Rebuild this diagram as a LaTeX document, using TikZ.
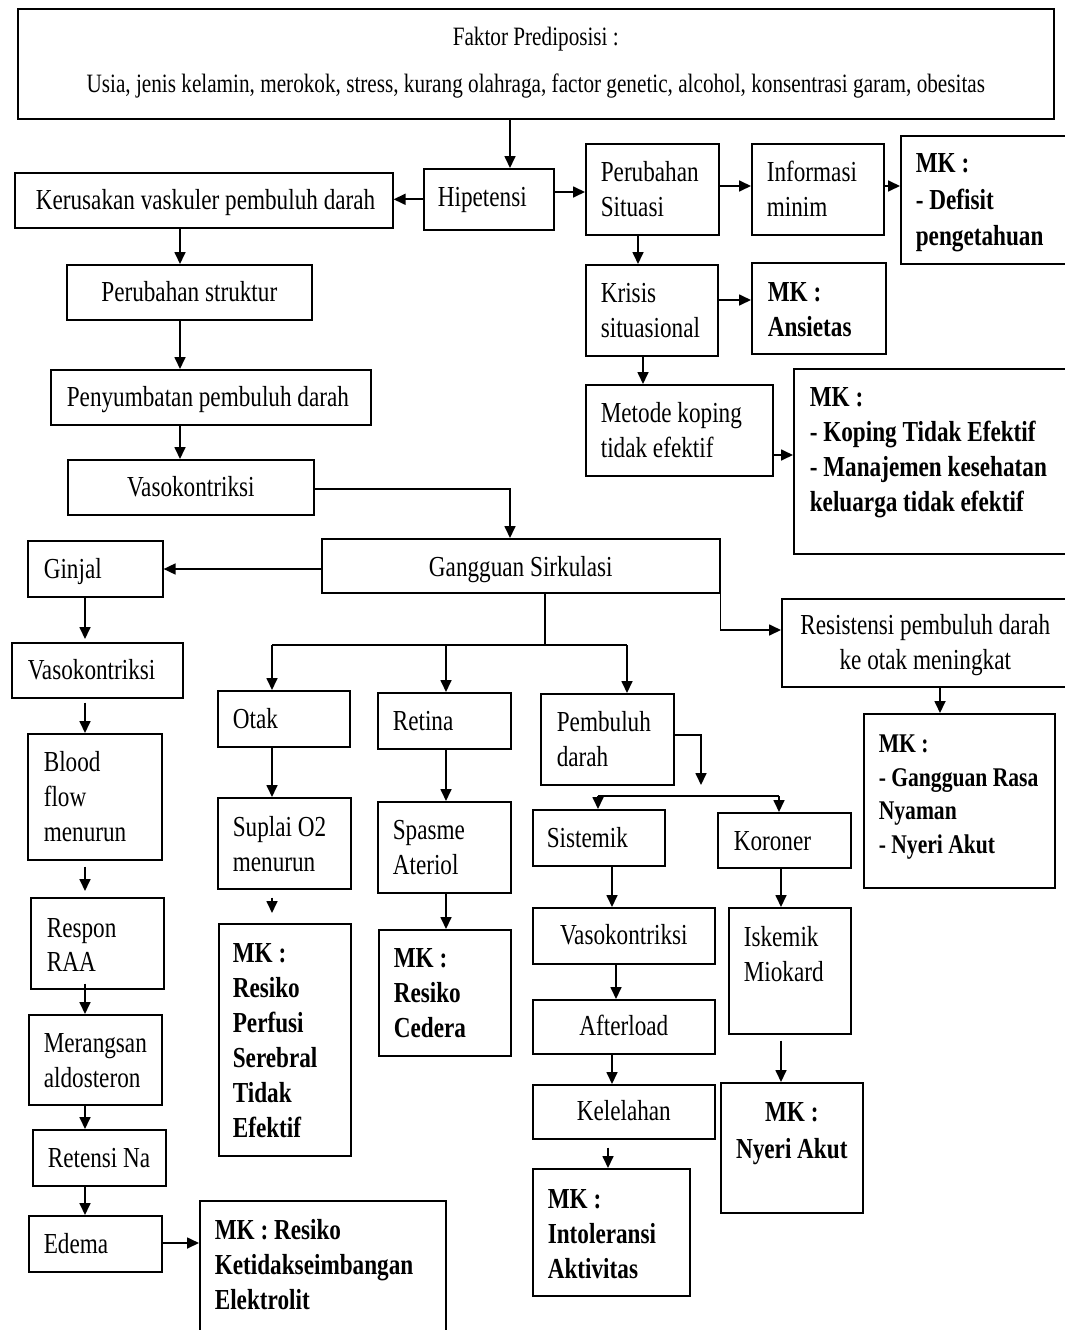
\documentclass[tikz,border=0pt]{standalone}
\usepackage{fontspec}
\setmainfont{Liberation Serif}[FakeStretch=0.8]
\usetikzlibrary{arrows.meta}
\newcommand\tb[5]{\parbox[c][#2pt][t]{#1pt}{\raggedright\leftskip=#3pt\relax\rule{0pt}{#4pt}#5\par}}
\newcommand\tc[4]{\parbox[c][#2pt][t]{#1pt}{\centering\rule{0pt}{#3pt}#4\par}}
\begin{document}
\begin{tikzpicture}[x=1pt,y=-1pt,
  bx/.style={draw, line width=1.6pt, inner sep=0pt, anchor=north west, font=\fontsize{29}{35}\selectfont},
  mk/.style={bx, font=\bfseries\fontsize{29}{35}\selectfont},
  conn/.style={line width=1.7pt},
  arr/.style={line width=1.7pt, -{Triangle[length=12pt,width=11pt]}}]
\useasboundingbox (0,0) rectangle (1065,1330);
\fill[white] (0,0) rectangle (1065,1330);
% nodes
\node[bx, font=\fontsize{26.5}{47}\selectfont] (top) at (17,8) {\tc{1036}{110}{37}{Faktor Prediposisi :\\Usia, jenis kelamin, merokok, stress, kurang olahraga, factor genetic, alcohol, konsentrasi garam, obesitas}};
\node[bx] (hip) at (423,168) {\tb{130}{61}{14}{38}{Hipetensi}};
\node[bx] (ker) at (14,172) {\tb{378}{55}{21}{37}{Kerusakan vaskuler pembuluh darah}};
\node[bx] (per) at (585,143) {\tb{133}{91}{15}{38}{Perubahan\\Situasi}};
\node[bx] (info) at (751,143) {\tb{132}{91}{15}{38}{Informasi\\minim}};
\node[mk, font=\bfseries\fontsize{29}{36.5}\selectfont] (mkdef) at (900,135) {\tb{175}{128}{15}{37}{MK :\\- Defisit\\pengetahuan}};
\node[bx] (kri) at (585,264) {\tb{132}{91}{15}{38}{Krisis\\situasional}};
\node[mk] (ans) at (751,262) {\tb{134}{91}{16}{39}{MK :\\Ansietas}};
\node[bx] (met) at (585,384) {\tb{187}{91}{15}{38}{Metode koping\\tidak efektif}};
\node[mk] (mkkop) at (793,368) {\tb{280}{185}{16}{38}{MK :\\- Koping Tidak Efektif\\- Manajemen kesehatan\\keluarga tidak efektif}};
\node[bx] (pst) at (66,264) {\tc{245}{55}{37}{Perubahan struktur}};
\node[bx] (pen) at (50,369) {\tb{320}{55}{16}{37}{Penyumbatan pembuluh darah}};
\node[bx] (vs1) at (67,459) {\tc{246}{55}{37}{Vasokontriksi}};
\node[bx] (gang) at (321,538) {\tc{398}{54}{38}{Gangguan Sirkulasi}};
\node[bx] (gin) at (27,540) {\tb{135}{56}{16}{38}{Ginjal}};
\node[bx] (res) at (781,598) {\tc{287}{88}{36}{Resistensi pembuluh darah\\ke otak meningkat}};
\node[mk, font=\bfseries\fontsize{27}{33.5}\selectfont] (mkgr) at (863,713) {\tb{191}{174}{15}{39}{MK :\\- Gangguan Rasa\\Nyaman\\- Nyeri Akut}};
\node[bx] (vs2) at (11,642) {\tb{171}{55}{16}{37}{Vasokontriksi}};
\node[bx] (otak) at (217,690) {\tb{132}{56}{15}{38}{Otak}};
\node[bx] (ret) at (377,692) {\tb{133}{56}{15}{38}{Retina}};
\node[bx] (pem) at (540,693) {\tb{133}{91}{16}{38}{Pembuluh\\darah}};
\node[bx] (blood) at (27,733) {\tb{134}{126}{16}{38}{Blood\\flow\\menurun}};
\node[bx] (sup) at (217,797) {\tb{133}{91}{15}{39}{Suplai O2\\menurun}};
\node[bx] (spa) at (377,801) {\tb{133}{91}{15}{38}{Spasme\\Ateriol}};
\node[bx] (sis) at (532,809) {\tb{132}{56}{14}{38}{Sistemik}};
\node[bx] (kor) at (717,812) {\tb{133}{55}{16}{38}{Koroner}};
\node[bx, font=\fontsize{29}{34}\selectfont] (rraa) at (30,897) {\tb{133}{91}{16}{40}{Respon\\RAA}};
\node[mk] (mkper) at (218,923) {\tb{132}{232}{14}{39}{MK :\\Resiko\\Perfusi\\Serebral\\Tidak\\Efektif}};
\node[mk] (mkced) at (378,929) {\tb{132}{126}{15}{38}{MK :\\Resiko\\Cedera}};
\node[bx] (vs3) at (532,907) {\tc{182}{56}{37}{Vasokontriksi}};
\node[bx] (isk) at (728,907) {\tb{122}{126}{15}{39}{Iskemik\\Miokard}};
\node[bx] (mer) at (28,1014) {\tb{133}{90}{15}{38}{Merangsan\\aldosteron}};
\node[bx] (aft) at (532,999) {\tc{182}{54}{36}{Afterload}};
\node[bx] (kel) at (532,1084) {\tc{182}{54}{36}{Kelelahan}};
\node[mk, font=\bfseries\fontsize{29}{37}\selectfont] (mkny) at (720,1082) {\tc{142}{130}{39}{MK :\\Nyeri Akut}};
\node[bx] (retna) at (32,1129) {\tb{133}{56}{15}{38}{Retensi Na}};
\node[mk] (mkint) at (532,1168) {\tb{157}{127}{15}{40}{MK :\\Intoleransi\\Aktivitas}};
\node[bx] (ede) at (28,1215) {\tb{133}{56}{15}{38}{Edema}};
\node[mk] (mkket) at (199,1200) {\tb{246}{150}{15}{39}{MK : Resiko\\Ketidakseimbangan\\Elektrolit}};
% helper coordinates
\coordinate (xA) at (510,0);
\coordinate (yC) at (0,192);
\coordinate (yD) at (0,186);
\coordinate (xF) at (638,0);
\coordinate (yG) at (0,300);
\coordinate (xH) at (643,0);
\coordinate (yI) at (0,455);
\coordinate (xJ) at (180,0);
\coordinate (yM) at (0,489);
\coordinate (yN) at (0,569);
\coordinate (yO) at (0,630);
\coordinate (xP) at (940,0);
\coordinate (xQ) at (545,0);
\coordinate (yQ) at (0,645);
\coordinate (xOt) at (272,0);
\coordinate (xRt) at (446,0);
\coordinate (xPm) at (627,0);
\coordinate (yV) at (0,735);
\coordinate (pv) at (701,785);
\coordinate (xSl) at (598,0);
\coordinate (xKr) at (779,0);
\coordinate (yW) at (0,796);
\coordinate (xX) at (612,0);
\coordinate (xY) at (616,0);
\coordinate (xZ) at (608,0);
\coordinate (xB) at (781,0);
\coordinate (xL) at (85,0);
\coordinate (yJJ) at (0,1243);
% connectors
\draw[arr] (top.south -| xA) -- (hip.north -| xA);
\draw[arr] (hip.west) -- (hip.west -| ker.east);
\draw[arr] (hip.east |- yC) -- (per.west |- yC);
\draw[arr] (per.east |- yD) -- (info.west |- yD);
\draw[arr] (info.east |- yD) -- (mkdef.west |- yD);
\draw[arr] (per.south -| xF) -- (kri.north -| xF);
\draw[arr] (kri.east |- yG) -- (ans.west |- yG);
\draw[arr] (kri.south -| xH) -- (met.north -| xH);
\draw[arr] (met.east |- yI) -- (mkkop.west |- yI);
\draw[arr] (ker.south -| xJ) -- (pst.north -| xJ);
\draw[arr] (pst.south -| xJ) -- (pen.north -| xJ);
\draw[arr] (pen.south -| xJ) -- (vs1.north -| xJ);
\draw[arr] (vs1.east |- yM) -| (gang.north -| xA);
\draw[arr] (gang.west |- yN) -- (gin.east |- yN);
\draw[arr] (gang.south east) |- (res.west |- yO);
\draw[arr] (res.south -| xP) -- (mkgr.north -| xP);
\draw[conn] (gang.south -| xQ) -- (xQ |- yQ);
\draw[conn] (xOt |- yQ) -- (xPm |- yQ);
\draw[arr] (xOt |- yQ) -- (otak.north -| xOt);
\draw[arr] (xRt |- yQ) -- (ret.north -| xRt);
\draw[arr] (xPm |- yQ) -- (pem.north -| xPm);
\draw[arr] (otak.south -| xOt) -- (sup.north -| xOt);
\draw[arr, shorten <=8pt, shorten >=10pt] (sup.south -| xOt) -- (mkper.north -| xOt);
\draw[arr] (ret.south -| xRt) -- (spa.north -| xRt);
\draw[arr] (spa.south -| xRt) -- (mkced.north -| xRt);
\draw[arr] (pem.east |- yV) -| (pv);
\draw[conn] (xSl |- yW) -- (xKr |- yW);
\draw[arr] (xSl |- yW) -- (sis.north -| xSl);
\draw[arr] (xKr |- yW) -- (kor.north -| xKr);
\draw[arr] (sis.south -| xX) -- (vs3.north -| xX);
\draw[arr] (vs3.south -| xY) -- (aft.north -| xY);
\draw[arr] (aft.south -| xX) -- (kel.north -| xX);
\draw[arr, shorten <=8pt] (kel.south -| xZ) -- (mkint.north -| xZ);
\draw[arr] (kor.south -| xB) -- (isk.north -| xB);
\draw[arr, shorten <=6pt] (isk.south -| xB) -- (mkny.north -| xB);
\draw[arr, shorten >=3pt] (gin.south -| xL) -- (vs2.north -| xL);
\draw[arr, shorten <=4pt] (vs2.south -| xL) -- (blood.north -| xL);
\draw[arr, shorten <=6pt, shorten >=6pt] (blood.south -| xL) -- (rraa.north -| xL);
\draw[arr, shorten <=-6pt] (rraa.south -| xL) -- (mer.north -| xL);
\draw[arr] (mer.south -| xL) -- (retna.north -| xL);
\draw[arr] (retna.south -| xL) -- (ede.north -| xL);
\draw[arr] (ede.east |- yJJ) -- (mkket.west |- yJJ);
\end{tikzpicture}
\end{document}
